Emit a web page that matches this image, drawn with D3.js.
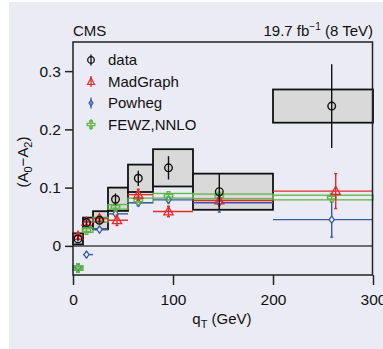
<!DOCTYPE html>
<html><head><meta charset="utf-8">
<script src="https://cdn.jsdelivr.net/npm/d3@7"></script>
<style>
html,body{margin:0;padding:0;background:#fff;}
svg{display:block;font-family:"Liberation Sans",Arial,sans-serif;}
</style></head>
<body>
<svg id="chart" width="383" height="349"></svg>
<script>
// ---- data ----
const binLo   = [0, 10, 20, 35, 55, 80, 120, 200];
const binHi   = [10, 20, 35, 55, 80, 120, 200, 300];
const qtMean  = [5, 13.5, 26.5, 42.5, 65.3, 95.5, 146.3, 258.7];
const dataVal  = [0.012, 0.040, 0.044, 0.080, 0.116, 0.134, 0.093, 0.240];
const dataStat = [0.004, 0.004, 0.004, 0.010, 0.013, 0.020, 0.032, 0.072];
const dataSyst = [0.0095, 0.0085, 0.0155, 0.020, 0.0235, 0.032, 0.031, 0.0285];
const mgX   = [5, 13.5, 26.5, 44, 65.3, 95.5, 146.3, 262.7];
const mgVal = [0.017, 0.041, 0.047, 0.044, 0.088, 0.059, 0.078, 0.094];
const mgErr = [0.005, 0.005, 0.005, 0.009, 0.009, 0.009, 0.007, 0.030];
const phVal = [-0.037, -0.015, 0.028, 0.055, 0.074, 0.079, 0.074, 0.045];
const phErr = [0.004, 0.004, 0.004, 0.004, 0.005, 0.005, 0.016, 0.030];
const fzVal = [-0.038, 0.027, 0.045, 0.067, 0.078, 0.086, 0.085, 0.083];
const fzErr = [0.004, 0.004, 0.004, 0.004, 0.004, 0.004, 0.004, 0.004];
const xTicks = [0, 100, 200, 300];
const yTicks = [0, 0.1, 0.2, 0.3];
const legendNames = ["data", "MadGraph", "Powheg", "FEWZ,NNLO"];

// ---- styles ----
const RED = "#e5292b", BLUE = "#3a5aab", GREEN = "#5fb547", BOX = "#d9d9d9";

const svg = d3.select("#chart");
svg.append("rect").attr("x", 9).attr("y", 2).attr("width", 374).attr("height", 347).attr("fill", "#ebebf5");

const x = d3.scaleLinear().domain([0, 300]).range([73, 373]);
const y = d3.scaleLinear().domain([-0.05, 0.35]).range([275, 42]);

const idx = d3.range(binLo.length);

// systematic boxes
svg.append("g").selectAll("rect").data(idx).join("rect")
  .attr("x", i => x(binLo[i])).attr("width", i => x(binHi[i]) - x(binLo[i]))
  .attr("y", i => y(dataVal[i] + dataSyst[i]))
  .attr("height", i => y(dataVal[i] - dataSyst[i]) - y(dataVal[i] + dataSyst[i]))
  .attr("fill", BOX).attr("stroke", "#111").attr("stroke-width", 1.8);

// zero line
svg.append("line").attr("x1", x(0)).attr("x2", x(300)).attr("y1", y(0)).attr("y2", y(0))
  .attr("stroke", "#444").attr("stroke-width", 1.5);

// FEWZ bands
const gF = svg.append("g");
gF.selectAll("rect").data(idx).join("rect")
  .attr("x", i => x(binLo[i])).attr("width", i => x(binHi[i]) - x(binLo[i]))
  .attr("y", i => y(fzVal[i] + fzErr[i])).attr("height", i => y(fzVal[i] - fzErr[i]) - y(fzVal[i] + fzErr[i]))
  .attr("fill", "none").attr("stroke", GREEN).attr("stroke-width", 1.3);

function hbars(vals, col) {
  const g = svg.append("g");
  g.selectAll("line").data(idx).join("line")
    .attr("x1", i => x(binLo[i])).attr("x2", i => x(binHi[i]))
    .attr("y1", i => y(vals[i])).attr("y2", i => y(vals[i]))
    .attr("stroke", col).attr("stroke-width", 1.4);
}
function vbars(xs, vals, errs, col, cap) {
  const g = svg.append("g").attr("stroke", col).attr("stroke-width", 1.4);
  idx.forEach(i => {
    g.append("line").attr("x1", x(xs[i])).attr("x2", x(xs[i]))
      .attr("y1", y(vals[i] + errs[i])).attr("y2", y(vals[i] - errs[i]));
    if (cap) {
      [vals[i] + errs[i], vals[i] - errs[i]].forEach(v => {
        g.append("line").attr("x1", x(xs[i]) - 1.5).attr("x2", x(xs[i]) + 1.5)
          .attr("y1", y(v)).attr("y2", y(v));
      });
    }
  });
}

const triPath = "M0,-4.8L4.6,3.4L-4.6,3.4Z";
const diaPath = "M0,-3.6L2.6,0L0,3.6L-2.6,0Z";
const crossPath = "M-1.3,-4.2H1.3V-1.3H4.2V1.3H1.3V4.2H-1.3V1.3H-4.2V-1.3H-1.3Z";

// Powheg
hbars(phVal, BLUE);
vbars(qtMean, phVal, phErr, BLUE, true);
svg.append("g").selectAll("path").data(idx).join("path")
  .attr("d", diaPath).attr("transform", i => `translate(${x(qtMean[i])},${y(phVal[i])})`)
  .attr("fill", "#ebebf5").attr("stroke", BLUE).attr("stroke-width", 1.3);

// FEWZ markers
vbars(qtMean, fzVal, fzErr, GREEN, false);
svg.append("g").selectAll("path").data(idx).join("path")
  .attr("d", crossPath).attr("transform", i => `translate(${x(qtMean[i])},${y(fzVal[i])})`)
  .attr("fill", "none").attr("stroke", GREEN).attr("stroke-width", 1.4);

// MadGraph
hbars(mgVal, RED);
vbars(mgX, mgVal, mgErr, RED, true);
svg.append("g").selectAll("path").data(idx).join("path")
  .attr("d", triPath).attr("transform", i => `translate(${x(mgX[i])},${y(mgVal[i])})`)
  .attr("fill", "none").attr("stroke", RED).attr("stroke-width", 1.3);

// data
vbars(qtMean, dataVal, dataStat, "#111", false);
svg.append("g").selectAll("circle").data(idx).join("circle")
  .attr("cx", i => x(qtMean[i])).attr("cy", i => y(dataVal[i])).attr("r", 3.8)
  .attr("fill", "none").attr("stroke", "#111").attr("stroke-width", 1.4);

// frame
svg.append("rect").attr("x", x(0)).attr("y", y(0.35)).attr("width", x(300) - x(0) - 0.5)
  .attr("height", y(-0.05) - y(0.35)).attr("fill", "none").attr("stroke", "#222").attr("stroke-width", 1.5);

// axes
const yAxis = d3.axisLeft(y).tickValues(yTicks).tickSize(8).tickPadding(4)
  .tickFormat(d => d === 0 ? "0" : d3.format(".1f")(d));
const gy = svg.append("g").attr("transform", `translate(${x(0)},0)`).call(yAxis);
const xAxis = d3.axisBottom(x).tickValues(xTicks).tickSize(10).tickPadding(9).tickFormat(d3.format("d"));
const gx = svg.append("g").attr("transform", `translate(0,${y(-0.05)})`).call(xAxis);
[gx, gy].forEach(g => {
  g.select(".domain").remove();
  g.selectAll(".tick line").attr("stroke", "#222").attr("stroke-width", 1.5);
  g.selectAll(".tick text").attr("fill", "#111").style("font-size", "15.5px")
    .style("font-family", '"Liberation Sans",Arial,sans-serif');
});

// titles
svg.append("text").attr("x", 73).attr("y", 36).attr("font-size", 15).attr("fill", "#111").text("CMS");
const lumi = svg.append("text").attr("x", 373).attr("y", 36).attr("font-size", 15)
  .attr("fill", "#111").attr("text-anchor", "end");
lumi.append("tspan").text("19.7 fb");
lumi.append("tspan").attr("dy", -6).attr("font-size", 10).text("\u22121");
lumi.append("tspan").attr("dy", 6).text(" (8 TeV)");

// y label
const yl = svg.append("text").attr("transform", "translate(28,162) rotate(-90)")
  .attr("text-anchor", "middle").attr("font-size", 15).attr("fill", "#111");
yl.append("tspan").text("(A");
yl.append("tspan").attr("dy", 4).attr("font-size", 11).text("0");
yl.append("tspan").attr("dy", -4).text("\u2212A");
yl.append("tspan").attr("dy", 4).attr("font-size", 11).text("2");
yl.append("tspan").attr("dy", -4).text(")");

// x label
const xl = svg.append("text").attr("x", 222).attr("y", 324).attr("text-anchor", "middle")
  .attr("font-size", 15).attr("fill", "#111");
xl.append("tspan").text("q");
xl.append("tspan").attr("dy", 4).attr("font-size", 11).text("T");
xl.append("tspan").attr("dy", -4).text(" (GeV)");

// legend
const lg = svg.append("g");
const legY = i => 60 + i * 21.5;
const legCols = ["#111", RED, BLUE, GREEN];
legendNames.forEach((n, i) => {
  const g = lg.append("g").attr("transform", `translate(91,${legY(i)})`);
  g.append("line").attr("x1", 0).attr("x2", 0).attr("y1", -5.5).attr("y2", 5.5)
    .attr("stroke", legCols[i]).attr("stroke-width", 1.3);
  if (i === 0) g.append("circle").attr("r", 3.3).attr("fill", "none").attr("stroke", "#111").attr("stroke-width", 1.3);
  if (i === 1) g.append("path").attr("d", "M0,-3.8L3.5,3L-3.5,3Z").attr("fill", "none").attr("stroke", RED).attr("stroke-width", 1.2);
  if (i === 2) g.append("path").attr("d", "M0,-3L2,0L0,3L-2,0Z").attr("fill", "none").attr("stroke", BLUE).attr("stroke-width", 1.2);
  if (i === 3) g.append("path").attr("d", "M-1.2,-3.8H1.2V-1.2H3.8V1.2H1.2V3.8H-1.2V1.2H-3.8V-1.2H-1.2Z").attr("fill", "none").attr("stroke", GREEN).attr("stroke-width", 1.3);
  lg.append("text").attr("x", 108).attr("y", legY(i)).attr("dy", "0.36em")
    .attr("font-size", 15).attr("fill", "#111").text(n);
});
</script>
</body></html>
